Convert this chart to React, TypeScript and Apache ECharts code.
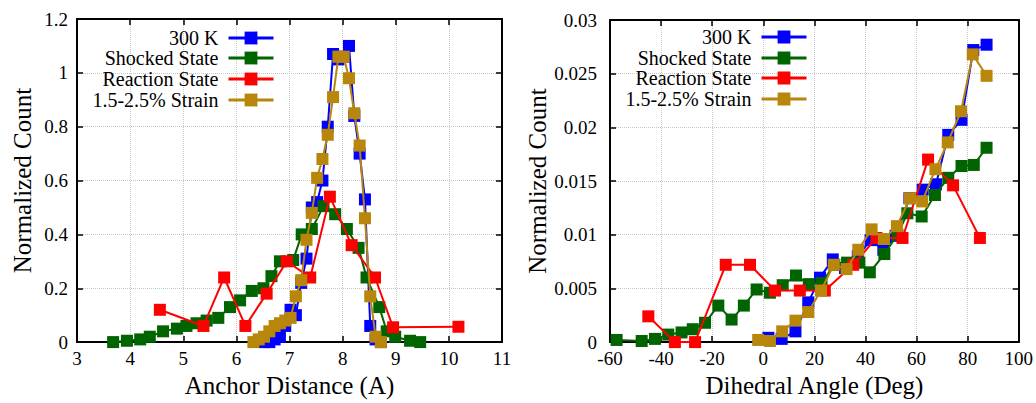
import React, { useEffect, useRef } from "react";
import * as echarts from "echarts";

const seriesNames = ["300 K", "Shocked State", "Reaction State", "1.5-2.5% Strain"];
const seriesColors = ["#0000ff", "#006400", "#ff0000", "#b8860b"];

// ---- Left panel: Anchor Distance (A) ----
const distX300K = [6.52, 6.62, 6.72, 6.82, 6.92, 7.02, 7.12, 7.22, 7.32, 7.42, 7.52, 7.62, 7.72, 7.82, 7.92, 8.02, 8.12, 8.22, 8.32, 8.42, 8.52, 8.62, 8.72];
const distY300K = [0.0, 0.0, 0.01, 0.02, 0.06, 0.12, 0.1, 0.22, 0.31, 0.5, 0.52, 0.6, 0.8, 1.07, 1.05, 1.06, 1.1, 0.84, 0.7, 0.53, 0.06, 0.01, 0.0];

const distXShock = [3.68, 3.94, 4.19, 4.37, 4.62, 4.88, 5.06, 5.25, 5.44, 5.66, 5.88, 6.07, 6.29, 6.51, 6.66, 6.82, 7.07, 7.23, 7.42, 7.64, 7.86, 8.08, 8.3, 8.45, 8.69, 8.83, 8.99, 9.27, 9.46];
const distYShock = [0.0, 0.005, 0.01, 0.02, 0.04, 0.05, 0.06, 0.07, 0.08, 0.09, 0.13, 0.155, 0.19, 0.2, 0.245, 0.3, 0.305, 0.4, 0.42, 0.505, 0.475, 0.42, 0.35, 0.24, 0.13, 0.04, 0.02, 0.005, 0.0];

const distXReact = [4.56, 5.38, 5.77, 6.17, 6.57, 6.95, 7.39, 7.76, 8.17, 8.61, 8.95, 10.18];
const distYReact = [0.12, 0.06, 0.24, 0.06, 0.18, 0.3, 0.24, 0.54, 0.36, 0.24, 0.055, 0.057];

const distXStrain = [6.32, 6.42, 6.52, 6.62, 6.72, 6.82, 6.92, 7.02, 7.12, 7.22, 7.32, 7.42, 7.52, 7.62, 7.72, 7.82, 7.92, 8.02, 8.12, 8.22, 8.32, 8.42, 8.52, 8.62, 8.72];
const distYStrain = [0.0, 0.01, 0.02, 0.04, 0.06, 0.07, 0.08, 0.09, 0.17, 0.23, 0.38, 0.48, 0.61, 0.68, 0.77, 0.91, 1.06, 1.06, 0.98, 0.85, 0.73, 0.46, 0.17, 0.02, 0.0];

// ---- Right panel: Dihedral Angle (Deg) ----
const angX300K = [2.0, 7.2, 12.6, 17.6, 22.2, 27.2, 32.0, 37.0, 42.0, 47.0, 51.8, 57.2, 62.4, 67.6, 72.4, 77.6, 82.2, 87.4];
const angY300K = [0.0004, 0.0003, 0.001, 0.0037, 0.006, 0.0077, 0.0069, 0.008, 0.0095, 0.0086, 0.0099, 0.0134, 0.0142, 0.0147, 0.0193, 0.0207, 0.0272, 0.0277];

const angXShock = [-57.4, -47.6, -42.4, -37.2, -32.0, -27.6, -22.8, -17.6, -12.4, -7.6, -2.6, 2.6, 7.6, 12.8, 17.8, 22.8, 27.8, 32.8, 37.6, 41.7, 47.4, 52.5, 56.4, 62.0, 67.2, 72.4, 77.6, 82.4, 87.4];
const angYShock = [0.0002, 0.0001, 0.0003, 0.0007, 0.0009, 0.0012, 0.0018, 0.0034, 0.0021, 0.0034, 0.0049, 0.0046, 0.0053, 0.0062, 0.0054, 0.0055, 0.0072, 0.0074, 0.0074, 0.0065, 0.0082, 0.01, 0.012, 0.0117, 0.0137, 0.0153, 0.0164, 0.0165, 0.0181];

const angXReact = [-45.0, -34.6, -26.7, -14.7, -5.2, 4.6, 14.3, 24.1, 35.2, 44.3, 54.5, 64.5, 74.3, 84.8];
const angYReact = [0.0024, 0.0, 0.0, 0.0072, 0.0072, 0.0048, 0.0048, 0.0048, 0.0072, 0.0097, 0.0097, 0.017, 0.0146, 0.0097];

const angXStrain = [-2.0, 2.6, 7.4, 12.6, 17.6, 22.6, 27.6, 32.6, 37.2, 42.4, 47.2, 52.3, 57.4, 62.2, 67.4, 72.2, 77.4, 82.0, 87.4];
const angYStrain = [0.0002, 0.0001, 0.001, 0.002, 0.0028, 0.0048, 0.0072, 0.0068, 0.0086, 0.0105, 0.0096, 0.0108, 0.0134, 0.0131, 0.0161, 0.0186, 0.0215, 0.0268, 0.0248];

const leftXTitle = "Anchor Distance (A)";
const rightXTitle = "Dihedral Angle (Deg)";
const yTitle = "Normalized Count";

const FONT = '"Liberation Serif", "Times New Roman", serif';

function zip(xs: number[], ys: number[]) {
  return xs.map((x, i) => [x, ys[i]]);
}

export default function App() {
  const ref = useRef<HTMLDivElement>(null);

  useEffect(() => {
    if (!ref.current) return;
    const chart = echarts.init(ref.current, undefined, { renderer: "svg" });

    const leftData = [
      zip(distX300K, distY300K),
      zip(distXShock, distYShock),
      zip(distXReact, distYReact),
      zip(distXStrain, distYStrain),
    ];
    const rightData = [
      zip(angX300K, angY300K),
      zip(angXShock, angYShock),
      zip(angXReact, angYReact),
      zip(angXStrain, angYStrain),
    ];

    const axisLine = { show: true, onZero: false, lineStyle: { color: "#000", width: 2 } };
    const tickIn = { show: true, inside: true, length: 6, lineStyle: { color: "#000", width: 1.5 } };
    const grid = { show: true, lineStyle: { color: "#c8c8c8", type: "dotted" as const, width: 1 } };
    const labelStyle = { fontFamily: FONT, fontSize: 19, color: "#000" };
    const nameStyle = { fontFamily: FONT, fontSize: 25, color: "#000" };

    const mkX = (gi: number, min: number, max: number, interval: number, name: string) => [
      {
        type: "value", gridIndex: gi, min, max, interval, position: "bottom",
        name, nameLocation: "middle", nameGap: 27, nameTextStyle: nameStyle,
        axisLine, axisTick: tickIn, splitLine: grid,
        axisLabel: { ...labelStyle, margin: 7 },
      },
      {
        type: "value", gridIndex: gi, min, max, interval, position: "top",
        axisLine, axisTick: tickIn, splitLine: { show: false }, axisLabel: { show: false },
      },
    ];
    const mkY = (gi: number, max: number, interval: number, gap: number, margin: number) => [
      {
        type: "value", gridIndex: gi, min: 0, max, interval, position: "left",
        name: yTitle, nameLocation: "middle", nameGap: gap, nameTextStyle: nameStyle,
        axisLine, axisTick: tickIn, splitLine: grid,
        axisLabel: { ...labelStyle, margin },
      },
      {
        type: "value", gridIndex: gi, min: 0, max, interval, position: "right",
        axisLine, axisTick: tickIn, splitLine: { show: false }, axisLabel: { show: false },
      },
    ];

    const series: any[] = [];
    [leftData, rightData].forEach((panel, p) => {
      panel.forEach((d, i) => {
        series.push({
          type: "line",
          name: seriesNames[i],
          xAxisIndex: p * 2,
          yAxisIndex: p * 2,
          data: d,
          symbol: "rect",
          symbolSize: 12,
          showAllSymbol: true,
          lineStyle: { color: seriesColors[i], width: 2 },
          itemStyle: { color: seriesColors[i] },
          emphasis: { disabled: true },
          z: 2 + i,
        });
      });
    });

    const leftTops = [28, 48, 69, 90];
    const rightTops = [27, 48, 68, 89];
    const legends: any[] = [];
    seriesNames.forEach((n, i) => {
      [[761, leftTops[i]], [228, rightTops[i]]].forEach(([r, t]) => {
        legends.push({
          data: [n],
          right: r,
          top: t,
          orient: "vertical",
          align: "right",
          itemWidth: 45,
          itemHeight: 16,
          padding: 0,
          selectedMode: false,
          lineStyle: { width: 3 },
          textStyle: { fontFamily: FONT, fontSize: 20, color: "#000", padding: [0, 5, 0, 0] },
        });
      });
    });

    chart.setOption({
      animation: false,
      backgroundColor: "#fff",
      grid: [
        { left: 77, right: 534, top: 19, bottom: 60 },
        { left: 610, right: 17, top: 20, bottom: 60 },
      ],
      xAxis: [...mkX(0, 3, 11, 1, leftXTitle), ...mkX(1, -60, 100, 20, rightXTitle)],
      yAxis: [...mkY(0, 1.2, 0.2, 42, 9), ...mkY(1, 0.03, 0.005, 57, 13)],
      legend: legends,
      series,
    } as any);

    return () => chart.dispose();
  }, []);

  return (
    <div
      ref={ref}
      style={{ position: "fixed", left: 0, top: 0, width: 1036, height: 403, background: "#fff" }}
    />
  );
}
